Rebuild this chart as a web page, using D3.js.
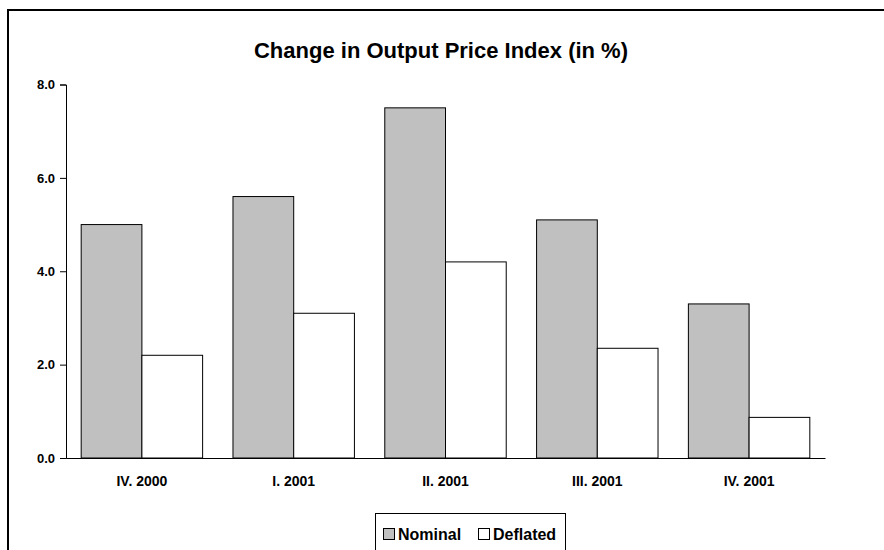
<!DOCTYPE html>
<html>
<head>
<meta charset="utf-8">
<script src="https://cdn.jsdelivr.net/npm/d3@7"></script>
<style>
  body { margin: 0; background: #fff; }
  svg { display: block; font-family: "Liberation Sans", Arial, sans-serif; }
</style>
</head>
<body>
<div id="chart"></div>
<script>
// Données
const categories = ["IV. 2000", "I. 2001", "II. 2001", "III. 2001", "IV. 2001"];
const nominal = [5.0, 5.6, 7.5, 5.1, 3.3];
const deflated = [2.2, 3.1, 4.2, 2.35, 0.87];
const seriesNames = ["Nominal", "Deflated"];
const yTicks = [0, 2, 4, 6, 8];

const width = 884, height = 550;
const margin = { left: 66, right: 884 - 825, top: 84.5, bottom: 550 - 458 };

const svg = d3.select("#chart").append("svg")
    .attr("width", width)
    .attr("height", height);

// Cadre extérieur (coupé à droite et en bas)
svg.append("rect")
    .attr("x", 8).attr("y", 10)
    .attr("width", 900).attr("height", 600)
    .attr("fill", "none")
    .attr("stroke", "#000")
    .attr("stroke-width", 2);

// Titre
svg.append("text")
    .attr("x", 441).attr("y", 58)
    .attr("text-anchor", "middle")
    .style("font-size", "22px")
    .style("font-weight", "bold")
    .text("Change in Output Price Index (in %)");

const x = d3.scaleBand()
    .domain(categories)
    .range([margin.left, width - margin.right])
    .padding(0);

// Deux barres par catégorie, espace de ~15 px de chaque côté
const xSub = d3.scaleBand()
    .domain(seriesNames)
    .range([0, x.bandwidth()])
    .paddingOuter(0.25)
    .paddingInner(0);

const y = d3.scaleLinear()
    .domain([0, 8])
    .range([height - margin.bottom, margin.top]);

const colors = { Nominal: "#c0c0c0", Deflated: "#ffffff" };

const rows = categories.map((c, i) => ({ cat: c, Nominal: nominal[i], Deflated: deflated[i] }));

// Barres
const groups = svg.append("g").selectAll("g")
    .data(rows)
    .join("g")
    .attr("transform", d => `translate(${x(d.cat)},0)`);

groups.selectAll("rect")
    .data(d => seriesNames.map(s => ({ s, v: d[s] })))
    .join("rect")
    .attr("x", d => xSub(d.s))
    .attr("y", d => y(d.v))
    .attr("width", xSub.bandwidth())
    .attr("height", d => y(0) - y(d.v))
    .attr("fill", d => colors[d.s])
    .attr("stroke", "#000")
    .attr("stroke-width", 1);

// Axe Y
const yAxis = svg.append("g")
    .attr("transform", `translate(${margin.left},0)`)
    .call(d3.axisLeft(y).tickValues(yTicks).tickFormat(d3.format(".1f")).tickSizeOuter(0).tickSize(6).tickPadding(5));
yAxis.select(".domain").attr("stroke", "#000");
yAxis.selectAll("text")
    .style("font-size", "13px")
    .style("font-weight", "bold")
    .attr("fill", "#000")
    .attr("font-family", null);

// Axe X
const xAxis = svg.append("g")
    .attr("transform", `translate(0,${y(0)})`)
    .call(d3.axisBottom(x).tickSize(0).tickPadding(18));
xAxis.select(".domain").attr("stroke", "#000");
xAxis.selectAll("text")
    .style("font-size", "14px")
    .style("font-weight", "bold")
    .attr("fill", "#000")
    .attr("font-family", null);

// Légende
const legend = svg.append("g");
legend.append("rect")
    .attr("x", 375.5).attr("y", 513.5)
    .attr("width", 190).attr("height", 60)
    .attr("fill", "#fff")
    .attr("stroke", "#000")
    .attr("stroke-width", 1);

const legendX = [383, 478];
seriesNames.forEach((s, i) => {
    legend.append("rect")
        .attr("x", legendX[i] + 0.5).attr("y", 528.5)
        .attr("width", 11).attr("height", 11)
        .attr("fill", colors[s])
        .attr("stroke", "#000")
        .attr("stroke-width", 1);
    legend.append("text")
        .attr("x", legendX[i] + 15).attr("y", 540)
        .style("font-size", "16px")
        .style("font-weight", "bold")
        .text(s);
});
</script>
</body>
</html>
